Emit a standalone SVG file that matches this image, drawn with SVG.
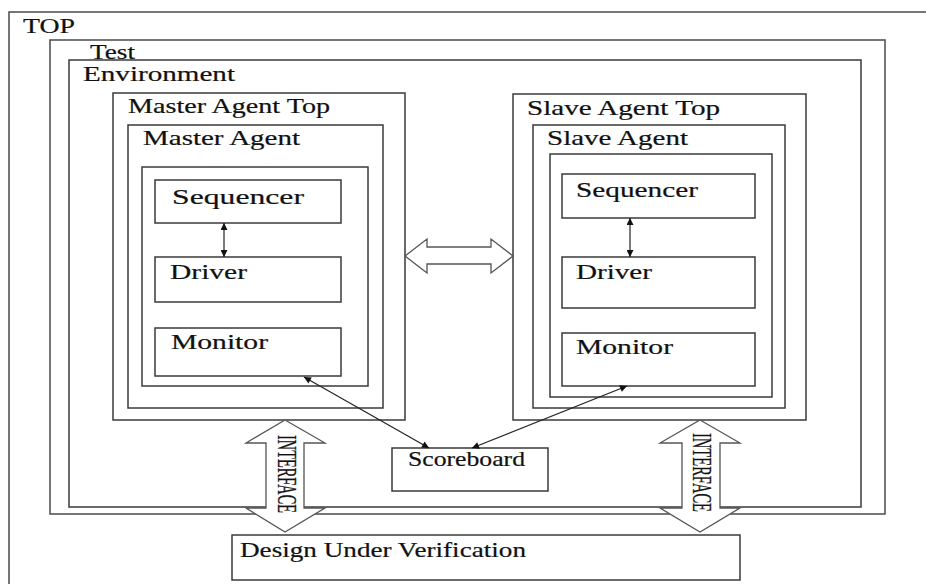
<svg xmlns="http://www.w3.org/2000/svg" width="926" height="584" viewBox="0 0 926 584">
<defs>
<style>
.b{fill:none;stroke:#3a3a3a;stroke-width:1.5}
.o{fill:none;stroke:#555;stroke-width:1.6}
.t{font-family:"Liberation Serif","Times New Roman",serif;font-size:21px;fill:#111;stroke:#111;stroke-width:0.2}
.ba{fill:#fff;stroke:#555;stroke-width:1.3}
.c{fill:none;stroke:#222;stroke-width:1.2}
</style>
<marker id="ah" viewBox="0 0 10 10" refX="10" refY="5" markerWidth="9" markerHeight="7" markerUnits="userSpaceOnUse" orient="auto-start-reverse">
<path d="M0,0 L10,5 L0,10 Z" fill="#111"/>
</marker>
</defs>
<rect width="926" height="584" fill="#fff"/>
<g id="top"><rect class="o" x="9" y="12" width="930" height="590"/><text class="t" x="23" y="33" font-size="19" textLength="52" lengthAdjust="spacingAndGlyphs">TOP</text></g>
<g id="test"><rect class="o" x="50" y="40" width="835" height="474"/></g>
<g id="environment"><rect class="b" x="69" y="60" width="792" height="447"/></g>
<g id="test-label"><text class="t" x="90" y="59" font-size="19" textLength="45" lengthAdjust="spacingAndGlyphs">Test</text>
<text class="t" x="83" y="81" font-size="20" textLength="152" lengthAdjust="spacingAndGlyphs">Environment</text></g>
<g id="master-agent-top"><rect class="b" x="113" y="93" width="292" height="327"/><text class="t" x="128" y="113" textLength="202" lengthAdjust="spacingAndGlyphs">Master Agent Top</text></g>
<g id="master-agent"><rect class="b" x="128" y="125" width="255" height="283"/><text class="t" x="143" y="145" textLength="157" lengthAdjust="spacingAndGlyphs">Master Agent</text>
<rect class="b" x="142" y="167" width="226" height="219"/></g>
<g id="m-seq"><rect class="b" x="155" y="180" width="186" height="43"/><text class="t" x="172" y="204" textLength="132" lengthAdjust="spacingAndGlyphs">Sequencer</text></g>
<g id="m-drv"><rect class="b" x="155" y="257" width="186" height="45"/><text class="t" x="170" y="279" textLength="77" lengthAdjust="spacingAndGlyphs">Driver</text></g>
<g id="m-mon"><rect class="b" x="155" y="328" width="186" height="48"/><text class="t" x="171" y="349" textLength="97" lengthAdjust="spacingAndGlyphs">Monitor</text></g>
<g id="slave-agent-top"><rect class="b" x="513" y="94" width="293" height="326"/><text class="t" x="527" y="115" textLength="193" lengthAdjust="spacingAndGlyphs">Slave Agent Top</text></g>
<g id="slave-agent"><rect class="b" x="533" y="125" width="252" height="283"/><text class="t" x="547" y="145" textLength="141" lengthAdjust="spacingAndGlyphs">Slave Agent</text>
<rect class="b" x="550" y="154" width="222" height="243"/></g>
<g id="s-seq"><rect class="b" x="562" y="174" width="193" height="44"/><text class="t" x="576" y="197" textLength="122" lengthAdjust="spacingAndGlyphs">Sequencer</text></g>
<g id="s-drv"><rect class="b" x="562" y="257" width="193" height="51"/><text class="t" x="576" y="279" textLength="76" lengthAdjust="spacingAndGlyphs">Driver</text></g>
<g id="s-mon"><rect class="b" x="562" y="333" width="193" height="53"/><text class="t" x="576" y="354" textLength="97" lengthAdjust="spacingAndGlyphs">Monitor</text></g>
<g id="scoreboard"><rect class="b" x="392" y="448" width="156" height="43"/><text class="t" x="408" y="466" font-size="19" textLength="117" lengthAdjust="spacingAndGlyphs">Scoreboard</text></g>
<g id="duv"><rect class="b" x="232" y="535" width="508" height="45"/><text class="t" x="240" y="557" textLength="286" lengthAdjust="spacingAndGlyphs">Design Under Verification</text></g>
<g id="connectors">
<path class="ba" d="M405,256 L427,239 L427,247 L491,247 L491,239 L513,256 L491,273 L491,264 L427,264 L427,273 Z"/>
<path class="ba" d="M285,420 L325,443 L304,443 L304,508 L325,508 L285,532 L246,508 L266,508 L266,443 L246,443 Z"/>
<path class="ba" d="M700,420 L740,443 L720,443 L720,508 L740,508 L700,532 L660,508 L682,508 L682,443 L660,443 Z"/>
<line class="c" x1="224" y1="223" x2="224" y2="257" marker-start="url(#ah)" marker-end="url(#ah)"/>
<line class="c" x1="630" y1="218" x2="630" y2="257" marker-start="url(#ah)" marker-end="url(#ah)"/>
<line class="c" x1="304" y1="377" x2="429" y2="448" marker-start="url(#ah)" marker-end="url(#ah)"/>
<line class="c" x1="627" y1="386" x2="472" y2="448" marker-start="url(#ah)" marker-end="url(#ah)"/>
</g>
<g id="interface-labels">
<text class="t" transform="translate(278,435) rotate(90) scale(1,1.3)" font-size="15" stroke-width="0.25" textLength="78" lengthAdjust="spacingAndGlyphs">INTERFACE</text>
<text class="t" transform="translate(693,433) rotate(90) scale(1,1.3)" font-size="15" stroke-width="0.25" textLength="79" lengthAdjust="spacingAndGlyphs">INTERFACE</text>
</g>
</svg>
